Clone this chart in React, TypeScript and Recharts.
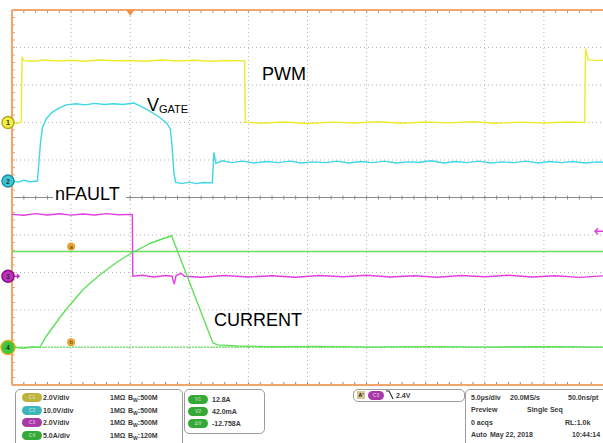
import React from 'react';
import {
  ComposedChart,
  Line,
  XAxis,
  YAxis,
  ReferenceLine,
  ReferenceDot,
} from 'recharts';

// horizontal: 5 µs/div, 10 div, trigger point 2 div from the left
const timeDomain: [number, number] = [-10, 40];
const majorTimeTicks = [-5, 0, 5, 10, 15, 20, 25, 30, 35];
const divTicks = [1, 2, 3, 4, 6, 7, 8, 9];
const minorPerSide = 50;

// channel settings (C1..C4)
const channelIds = ['c1', 'c2', 'c3', 'c4'];
const channelPerDiv = [2, 10, 2, 5];
const channelOffsetDiv = [7, 5.44, 2.9, 1];
const channelColors = ['#eeea2e', '#3fd6e6', '#e23ee0', '#5fe05a'];
const badgeColors = ['#f4f040', '#3cc8d8', '#c030c0', '#3cc83c'];
const badgeStroke = ['#b8a820', '#2090a0', '#801080', '#d8b020'];

// traces: [time µs, value]
const pwmTrace = [
  [-10, 0.02], [-9.6, -0.05], [-9.22, 0.03], [-9.15, 3.5], [-9.0, 3.3], [-8.2, 3.27], [-7.3, 3.33],
  [-6.1, 3.28], [-5.0, 3.32], [-3.8, 3.27], [-2.6, 3.33], [-1.4, 3.29], [0, 3.31], [1.3, 3.27],
  [2.6, 3.33], [4.0, 3.28], [5.4, 3.32], [6.8, 3.27], [8.2, 3.31], [9.68, 3.29], [9.74, 0.02],
  [11, -0.04], [13, 0.03], [15, -0.05], [17, 0.02], [19, -0.03], [21, 0.04], [23, -0.04],
  [25, 0.03], [27, -0.02], [29, 0.04], [31, -0.04], [33, 0.02], [35, -0.03], [37, 0.03],
  [38.45, 0.0], [38.52, 3.95], [38.75, 3.35], [39.4, 3.3], [40, 3.32],
];
const vgateTrace = [
  [-10, 0.1], [-9.5, -0.3], [-9.0, 0.2], [-8.5, -0.2], [-7.85, 0], [-7.72, 5], [-7.58, 10.5],
  [-7.42, 14.3], [-7.1, 16.6], [-6.6, 18.3], [-6.0, 19.5], [-5.4, 20.3], [-4.6, 20.6], [-3.8, 20.3],
  [-3.0, 20.7], [-2.2, 20.4], [-1.4, 20.6], [-0.6, 20.4], [0.3, 20.8], [0.8, 20.1], [1.5, 18.9],
  [2.3, 17.4], [3.1, 15.4], [3.4, 13.8], [3.55, 9], [3.7, 2], [3.85, -0.4], [4.4, -0.7],
  [5.0, -0.3], [5.6, -0.7], [6.2, -0.4], [6.95, -0.5], [7.08, 7.6], [7.25, 4.7], [7.8, 5.4],
  [8.6, 4.9], [9.5, 5.3], [10.5, 4.8], [11.5, 5.2], [12.5, 4.9], [13.5, 5.3], [14.5, 4.8],
  [15.5, 5.1], [16.5, 4.9], [17.5, 5.3], [18.5, 4.8], [19.5, 5.2], [20.5, 4.9], [21.5, 5.3],
  [22.5, 4.8], [23.5, 5.1], [24.5, 5.0], [25.5, 5.4], [26.5, 4.8], [27.5, 5.2], [28.5, 4.9],
  [29.5, 5.3], [30.5, 4.8], [31.5, 5.1], [32.5, 4.9], [33.5, 5.3], [34.5, 4.8], [35.5, 5.2],
  [36.5, 4.9], [37.5, 5.2], [38.5, 4.8], [39.5, 5.1], [40, 5.0],
];
const nfaultTrace = [
  [-10, 3.3], [-9, 3.25], [-8, 3.34], [-7, 3.27], [-6, 3.33], [-5, 3.26], [-4, 3.32], [-3, 3.27],
  [-2, 3.34], [-1, 3.28], [0.18, 3.3], [0.22, 0], [1, 0.05], [2, -0.04], [3, 0.04], [3.55, 0],
  [3.72, -0.42], [3.88, 0.04], [4.3, 0.16], [4.6, 0], [6, -0.05], [8, 0.04], [10, -0.04],
  [12, 0.03], [14, -0.05], [16, 0.04], [18, -0.03], [20, 0.05], [22, -0.04], [24, 0.03],
  [26, -0.05], [28, 0.04], [30, -0.03], [32, 0.05], [34, -0.04], [36, 0.03], [38, -0.06], [40, 0.02],
];
const currentTrace = [
  [-10, 0.05], [-9, -0.1], [-8.2, 0.1], [-7.65, 0], [-7.1, 1.5], [-6.5, 2.8], [-5.9, 4.1],
  [-5.3, 5.3], [-4.6, 6.6], [-4.0, 7.7], [-3.3, 8.7], [-2.55, 9.7], [-1.8, 10.6], [-1.1, 11.4],
  [-0.4, 12.1], [0.24, 12.7], [1.0, 13.3], [1.7, 13.9], [2.4, 14.3], [2.95, 14.6], [3.5, 14.9],
  [7.0, 0.6], [7.4, 0.35], [9, 0.2], [12, 0.1], [16, 0.15], [20, 0.05], [25, 0.12], [30, 0.05],
  [35, 0.1], [40, 0.05],
];
const traces = [pwmTrace, vgateTrace, nfaultTrace, currentTrace];

// cursors (C4) and trigger level (C3)
const cursorA = 12.8;
const cursorB = 0.042;
const cursorLabelTime = -5;
const triggerLevel = 2.4;

// readout texts
const scaleLabels = ['2.0V/div', '10.0V/div', '2.0V/div', '5.0A/div'];
const bwLabels = ['500M', '500M', '500M', '120M'];
const pillColors = ['#bdb43c', '#3cb6b8', '#a83aa8', '#35a935'];
const cursorNames = ['V1', 'V2', 'ΔV'];
const cursorValues = ['12.8A', '42.0mA', '-12.758A'];

const toPoints = (trace: number[][]) => trace.map(([t, v]) => ({ t, v }));
const domainOf = (i: number): [number, number] => [
  -channelOffsetDiv[i] * channelPerDiv[i],
  (10 - channelOffsetDiv[i]) * channelPerDiv[i],
];

// a graticule edge: line plus minor ticks (dir: which way ticks point, both = -1 & +1)
const edge = (color: string, tickColor: string, width: number, dirs: number[]) => (p: any) => {
  const x1 = Math.min(p.x1, p.x2);
  const x2 = Math.max(p.x1, p.x2);
  const y1 = Math.min(p.y1, p.y2);
  const y2 = Math.max(p.y1, p.y2);
  const vertical = x1 === x2;
  const ticks = [];
  for (let i = 1; i < minorPerSide; i++) {
    const f = i / minorPerSide;
    for (const d of dirs) {
      if (vertical) {
        const y = y1 + f * (y2 - y1);
        ticks.push(<line key={`${i}${d}`} x1={x1} x2={x1 + d * 3} y1={y} y2={y} stroke={tickColor} />);
      } else {
        const x = x1 + f * (x2 - x1);
        ticks.push(<line key={`${i}${d}`} x1={x} x2={x} y1={y1} y2={y1 + d * 3} stroke={tickColor} />);
      }
    }
  }
  return (
    <g>
      {ticks}
      <line x1={x1} y1={y1} x2={x2} y2={y2} stroke={color} strokeWidth={width} />
    </g>
  );
};

const badge = (i: number) => (p: any) => {
  const cx = p.cx - 4;
  const cy = p.cy;
  return (
    <g>
      {i === 2 && <path d={`M${cx + 6} ${cy} L${cx + 11} ${cy} M${cx + 9} ${cy - 2} L${cx + 11} ${cy} L${cx + 9} ${cy + 2}`} stroke={badgeColors[i]} strokeWidth={1.5} fill="none" />}
      <circle cx={cx} cy={cy} r={i === 3 ? 7 : 6} fill={badgeColors[i]} stroke={badgeStroke[i]} strokeWidth={1.5} />
      <text x={cx} y={cy + 2.5} textAnchor="middle" fontSize={7} fontWeight={700} fill="#333">{i + 1}</text>
    </g>
  );
};

const cursorBadge = (letter: string) => (p: any) => (
  <g>
    <circle cx={p.cx} cy={p.cy - 5} r={4} fill="#e6a437" />
    <text x={p.cx} y={p.cy - 3} textAnchor="middle" fontSize={6} fill="#6a4000">{letter}</text>
  </g>
);

const triggerMark = (p: any) => (
  <path d={`M${p.cx - 4} ${p.cy} L${p.cx + 4} ${p.cy} L${p.cx} ${p.cy + 6} Z`} fill="#ef8f3c" />
);

const levelArrow = (p: any) => (
  <path d={`M${p.cx - 8} ${p.cy} L${p.cx} ${p.cy} M${p.cx - 5} ${p.cy - 3} L${p.cx - 8} ${p.cy} L${p.cx - 5} ${p.cy + 3}`} stroke="#e23ee0" strokeWidth={1.5} fill="none" />
);

const Txt = ({ x, y, children }: any) => (
  <div style={{ position: 'absolute', left: x, top: y, fontSize: 7, fontWeight: 700, color: '#3a3a3a', lineHeight: '10px', whiteSpace: 'nowrap' }}>
    {children}
  </div>
);

const Pill = ({ x, y, color, label, w = 20 }: any) => (
  <div style={{ position: 'absolute', left: x, top: y, width: w, height: 9, borderRadius: 5, background: color, color: 'rgba(255,255,255,0.55)', fontSize: 5, lineHeight: '9px', textAlign: 'center', fontWeight: 700 }}>
    {label}
  </div>
);

const boxStyle = (left: number, top: number, width: number, height: number): React.CSSProperties => ({
  position: 'absolute', left, top, width, height, border: '1px solid #9c9c9c', borderRadius: 5, boxSizing: 'border-box',
});

const orange = '#f2a46e';

export default function App() {
  return (
    <div style={{ position: 'absolute', left: 0, top: 0, width: 603, height: 443, background: '#fff', overflow: 'hidden', fontFamily: '"Liberation Sans", Arial, sans-serif' }}>
      <ComposedChart width={603} height={390} margin={{ top: 10, left: 12, right: 0, bottom: 5 }}>
        <XAxis dataKey="t" type="number" domain={timeDomain} allowDataOverflow hide />
        <YAxis type="number" domain={[0, 10]} allowDataOverflow hide />
        {channelIds.map((id, i) => (
          <YAxis key={id} yAxisId={id} type="number" domain={domainOf(i)} allowDataOverflow hide />
        ))}
        {majorTimeTicks.map((t) => (
          <ReferenceLine key={`gx${t}`} x={t} stroke="#b4b4b4" strokeDasharray="1 3" />
        ))}
        {divTicks.map((d) => (
          <ReferenceLine key={`gy${d}`} y={d} stroke="#b4b4b4" strokeDasharray="1 3" />
        ))}
        <ReferenceLine y={5} shape={edge('#8a8a8a', '#8a8a8a', 1, [-2 / 3, 2 / 3])} />
        <ReferenceLine y={10} ifOverflow="visible" shape={edge(orange, '#9a9a9a', 2, [1])} />
        <ReferenceLine y={0} ifOverflow="visible" shape={edge(orange, '#8a8a8a', 2, [-1])} />
        <ReferenceLine x={-10} ifOverflow="visible" shape={edge(orange, '#e8a070', 2, [1])} />
        <ReferenceLine yAxisId="c4" y={cursorA} stroke="#66e060" strokeWidth={1.5} />
        <ReferenceLine yAxisId="c4" y={cursorB} stroke="#66e060" strokeWidth={1.2} strokeDasharray="2 1" />
        {channelIds.map((id, i) => (
          <Line key={id} yAxisId={id} data={toPoints(traces[i])} dataKey="v" type="linear" stroke={channelColors[i]} strokeWidth={1.4} dot={false} isAnimationActive={false} />
        ))}
        <ReferenceDot yAxisId="c4" x={cursorLabelTime} y={cursorA} ifOverflow="visible" shape={cursorBadge('a')} />
        <ReferenceDot yAxisId="c4" x={cursorLabelTime} y={cursorB} ifOverflow="visible" shape={cursorBadge('b')} />
        <ReferenceDot x={0} y={10} ifOverflow="visible" shape={triggerMark} />
        <ReferenceDot yAxisId="c3" x={40} y={triggerLevel} ifOverflow="visible" shape={levelArrow} />
        {channelIds.map((id, i) => (
          <ReferenceDot key={id} yAxisId={id} x={-10} y={0} ifOverflow="visible" shape={badge(i)} />
        ))}
      </ComposedChart>

      <svg width={603} height={390} style={{ position: 'absolute', left: 0, top: 0, pointerEvents: 'none' }}>
        <g fontFamily='"Liberation Sans", Arial, sans-serif' fill="#000">
          <text x={262} y={80} fontSize={18}>PWM</text>
          <text x={147} y={111} fontSize={18}>V<tspan fontSize={11} dy={2}>GATE</tspan></text>
          <rect x={53} y={184} width={73} height={17} fill="#fff" />
          <text x={55} y={200} fontSize={18}>nFAULT</text>
          <text x={214} y={326} fontSize={18}>CURRENT</text>
        </g>
      </svg>

      <div style={boxStyle(15, 389, 168, 60)} />
      {scaleLabels.map((s, i) => (
        <React.Fragment key={s + i}>
          <Pill x={22} y={393 + i * 12.5} color={pillColors[i]} label={`C${i + 1}`} />
          <Txt x={43} y={393 + i * 12.5}>{s}</Txt>
          <Txt x={110} y={393 + i * 12.5}>1MΩ</Txt>
          <Txt x={128} y={393 + i * 12.5}>
            B<sub style={{ fontSize: 5 }}>W</sub>:{bwLabels[i]}
          </Txt>
        </React.Fragment>
      ))}

      <div style={boxStyle(184, 389, 81, 45)} />
      {cursorNames.map((n, i) => (
        <React.Fragment key={n}>
          <Pill x={188} y={395 + i * 12} color="#35a935" label={n} />
          <Txt x={212} y={395 + i * 12}>{cursorValues[i]}</Txt>
        </React.Fragment>
      ))}

      <div style={boxStyle(353, 389, 112, 13)} />
      <div style={{ position: 'absolute', left: 357, top: 391, width: 8, height: 8, background: '#d8c79a', fontSize: 5, lineHeight: '8px', textAlign: 'center', fontWeight: 700 }}>A'</div>
      <Pill x={368} y={391} color="#a83aa8" label="C3" w={16} />
      <svg width={10} height={10} style={{ position: 'absolute', left: 385, top: 390 }}>
        <path d="M1 1 L4 1 L8 9" stroke="#333" strokeWidth={1.2} fill="none" />
      </svg>
      <Txt x={396} y={391}>2.4V</Txt>

      <div style={boxStyle(465, 389, 145, 60)} />
      <Txt x={471} y={393}>5.0µs/div</Txt>
      <Txt x={510} y={393}>20.0MS/s</Txt>
      <Txt x={568} y={393}>50.0ns/pt</Txt>
      <Txt x={471} y={405}>Preview</Txt>
      <Txt x={527} y={405}>Single Seq</Txt>
      <Txt x={471} y={418}>0 acqs</Txt>
      <Txt x={565} y={418}>RL:1.0k</Txt>
      <Txt x={471} y={430}>Auto</Txt>
      <Txt x={490} y={430}>May 22, 2018</Txt>
      <Txt x={572} y={430}>10:44:14</Txt>
    </div>
  );
}
